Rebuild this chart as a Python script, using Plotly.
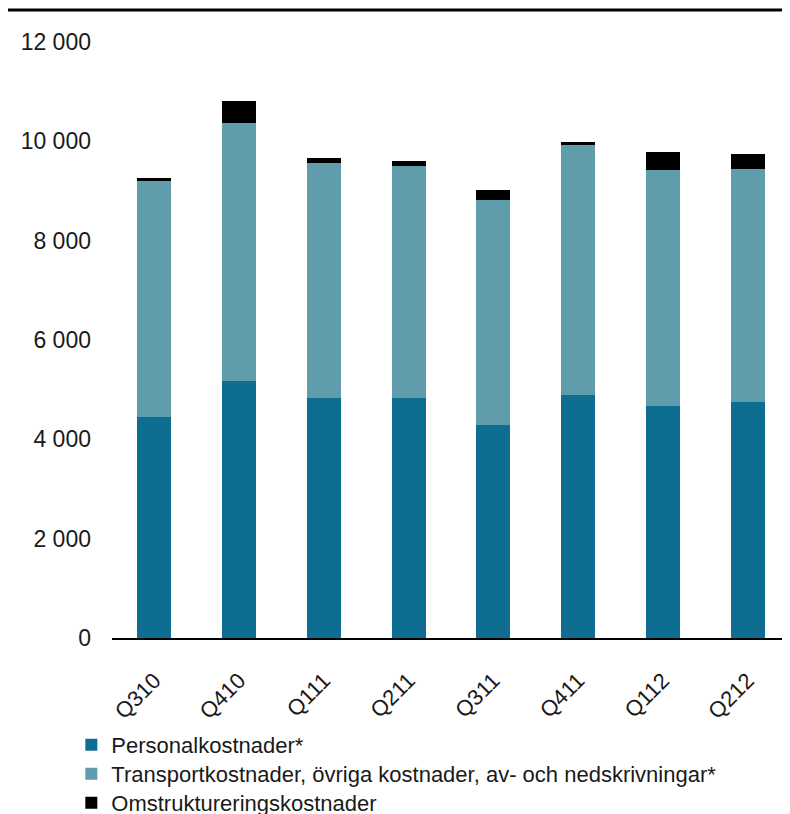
import plotly.graph_objects as go

QUARTERS = ["Q310", "Q410", "Q111", "Q211", "Q311", "Q411", "Q112", "Q212"]
PERSONAL = [4450, 5170, 4830, 4830, 4290, 4890, 4670, 4750]
TRANSPORT = [4745, 5190, 4730, 4670, 4520, 5050, 4750, 4690]
OMSTRUKT = [60, 460, 100, 100, 220, 40, 360, 300]

SERIES = [
    ("Personalkostnader*", PERSONAL, "#0E6E91"),
    ("Transportkostnader, övriga kostnader, av- och nedskrivningar*", TRANSPORT, "#5F9CAC"),
    ("Omstruktureringskostnader", OMSTRUKT, "#000000"),
]

FONT = "Liberation Sans, Arial, sans-serif"
# the page body has an 8px margin, so the figure is drawn 8px smaller
W, H = 782, 806

fig = go.Figure()
legend_keys = ["legend", "legend2", "legend3"]
for (name, vals, color), key in zip(SERIES, legend_keys):
    fig.add_trace(go.Bar(
        x=QUARTERS, y=vals, name=name, legend=key,
        marker=dict(color=color, line=dict(width=0)),
        width=0.4,
    ))


def _legend(top_px):
    return dict(
        orientation="v", x=-0.06, xanchor="left",
        yref="container", y=1 - top_px / H, yanchor="top",
        font=dict(size=22, color="#1a1a1a"),
        itemwidth=30, bgcolor="rgba(0,0,0,0)",
    )


fig.update_layout(
    width=W, height=H,
    barmode="stack",
    plot_bgcolor="white", paper_bgcolor="white",
    separators=", ",
    font=dict(family=FONT, color="#1a1a1a"),
    margin=dict(l=104, r=0, t=34, b=176, autoexpand=False),
    showlegend=True,
    legend=_legend(716),
    legend2=_legend(745),
    legend3=_legend(774),
    xaxis=dict(
        showline=True, linecolor="black", linewidth=2,
        ticks="", showgrid=False, tickangle=-45, automargin=False,
        tickfont=dict(size=22, color="#1a1a1a"),
        ticklabelstandoff=19,
    ),
    yaxis=dict(
        range=[0, 12000], tickvals=[0, 2000, 4000, 6000, 8000, 10000, 12000],
        tickformat=",d", showgrid=False, zeroline=False, showline=False,
        ticks="", automargin=False, tickfont=dict(size=23, color="#1a1a1a"),
        ticklabelstandoff=20,
    ),
    shapes=[dict(
        type="line", xref="paper", yref="paper",
        x0=-0.2, x1=1.2, y0=1 + 32 / 596, y1=1 + 32 / 596,
        line=dict(color="black", width=3),
    )],
)

fig.write_html("out.html")
